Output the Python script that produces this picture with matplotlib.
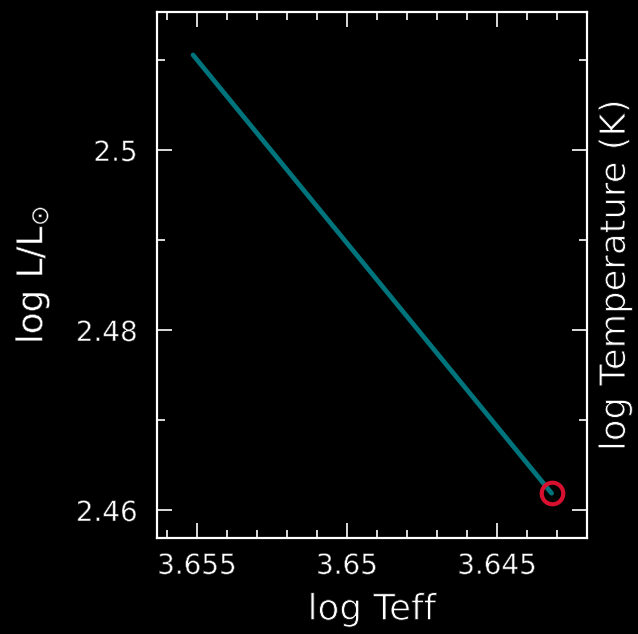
import numpy as np
import matplotlib.pyplot as plt
import matplotlib.patheffects as pe
from matplotlib.ticker import MultipleLocator

plt.rcParams['font.family'] = ['DejaVu Sans']
plt.rcParams['mathtext.fontset'] = 'dejavusans'

# track in the HR diagram
log_teff = [3.65513, 3.64318]
log_lum = [2.51056, 2.46186]
# current position
now_teff = [3.64318]
now_lum = [2.46186]

# slimmer glyphs: eat into the outline with a black stroke
thin_small = [pe.Normal(), pe.Stroke(linewidth=0.4, foreground='black')]
thin_big = [pe.Normal(), pe.Stroke(linewidth=0.65, foreground='black')]

fig = plt.figure(figsize=(6.38, 6.34), dpi=100, facecolor='black')
ax = fig.add_axes([0.2461, 0.1514, 0.6740, 0.8297], facecolor='black')

ax.plot(log_teff, log_lum, c='#00747d', lw=3.4, solid_capstyle='round', zorder=2)
ax.plot(now_teff, now_lum, 'o', mfc='none', mec='#d8102f', ms=15.5, mew=3, zorder=3)

ax.set_xlim(3.65633, 3.642)
ax.set_ylim(2.45689, 2.51533)

ax.xaxis.set_minor_locator(MultipleLocator(0.001))
ax.yaxis.set_minor_locator(MultipleLocator(0.01))
ax.set_xticks([3.655, 3.65, 3.645])
ax.set_xticklabels(['3.655', '3.65', '3.645'])
ax.set_yticks([2.46, 2.48, 2.5])
ax.set_yticklabels(['2.46', '2.48', '2.5'])

ax.set_xlabel('log Teff', color='white', fontsize=25.7, path_effects=thin_big)
ax.xaxis.set_label_coords(0.5, -0.104)
ax.set_ylabel(r'log L/L$_{\odot}$', color='white', fontsize=25.7, path_effects=thin_small)
ax.yaxis.set_label_coords(-0.246, 0.5)

# right axis, label only
ax2 = ax.twinx()
ax2.set_ylim(ax.get_ylim())
ax2.tick_params(axis='y', right=False, labelright=False)
for s in ax2.spines.values():
    s.set_visible(False)
ax2.set_ylabel('log Temperature (K)', color='white', fontsize=25.5, path_effects=thin_big)
ax2.yaxis.set_label_coords(1.0255, 0.5)

# twinx moves the ticks to the left, so set them afterwards
for s in ax.spines.values():
    s.set_color('white')
    s.set_linewidth(1.6)
ax.tick_params(which='both', direction='in', colors='white', width=1.2,
               top=True, right=True, left=True, bottom=True, labelsize=20)
ax.tick_params(which='major', length=10.5)
ax.tick_params(which='minor', length=5.5)
ax.tick_params(axis='x', pad=10)
ax.tick_params(axis='y', pad=14, labelleft=True, labelright=False)
for lab in ax.get_xticklabels() + ax.get_yticklabels():
    lab.set_path_effects(thin_small)

fig.savefig('out.png', dpi=100, facecolor='black')
